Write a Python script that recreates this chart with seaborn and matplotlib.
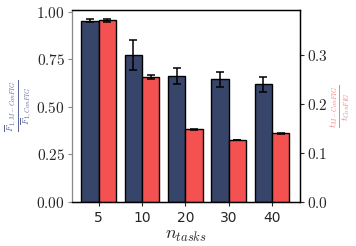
import numpy as np
import pandas as pd
import matplotlib
matplotlib.use("Agg")
import matplotlib.pyplot as plt
import seaborn as sns
from matplotlib.ticker import FuncFormatter

## Data
n_tasks = ["5", "10", "20", "30", "40"]
f1_ratio = [0.955, 0.775, 0.665, 0.645, 0.620]
f1_err = [0.007, 0.080, 0.042, 0.040, 0.040]
time_ratio = [0.371, 0.255, 0.149, 0.127, 0.140]
time_err = [0.003, 0.004, 0.001, 0.0005, 0.0005]

blue = "#38456a"
red = "#f45151"

sns.set_style("white")
plt.rcParams["mathtext.fontset"] = "cm"
plt.rcParams["font.family"] = ["DejaVu Sans"]

df = pd.DataFrame({
    "n": n_tasks * 2,
    "metric": ["f1"] * 5 + ["time"] * 5,
    "f1": f1_ratio + [np.nan] * 5,
    "time": [np.nan] * 5 + time_ratio,
})

fig = plt.figure(figsize=(3.56, 2.46), dpi=100)
ax1 = fig.add_axes([0.202, 0.179, 0.641, 0.78])
ax2 = ax1.twinx()

for ax, col in ((ax1, "f1"), (ax2, "time")):
    sns.barplot(data=df, x="n", y=col, hue="metric", hue_order=["f1", "time"],
                palette=[blue, red], saturation=1, width=0.8, edgecolor="black",
                linewidth=1, legend=False, ax=ax)

# error bars at bar centres
def add_err(ax, vals, errs):
    bars = [p for p in ax.patches if p.get_height() > 0 and not np.isnan(p.get_height())]
    bars = sorted(bars, key=lambda p: p.get_x())
    xs = [p.get_x() + p.get_width() / 2 for p in bars]
    ax.errorbar(xs, vals, yerr=errs, fmt="none", ecolor="black", elinewidth=1.1, capsize=3, capthick=1.1)

add_err(ax1, f1_ratio, f1_err)
add_err(ax2, time_ratio, time_err)

ax1.set_xlim(-0.62, 4.65)
ax1.set_ylim(0, 1.01)
ax2.set_ylim(0, 0.392)
ax1.set_yticks([0, 0.25, 0.5, 0.75, 1.0])
ax2.set_yticks([0, 0.1, 0.2, 0.3])
ax1.yaxis.set_major_formatter(FuncFormatter(lambda v, p: f"${v:.2f}$"))
ax2.yaxis.set_major_formatter(FuncFormatter(lambda v, p: f"${v:.1f}$"))
ax1.tick_params(axis="y", labelsize=11, length=3, pad=2, left=True, color="#888888")
ax2.tick_params(axis="y", labelsize=11, length=3, pad=2, right=True)
ax1.tick_params(axis="x", labelsize=10, length=3, bottom=True)

ax1.set_xlabel("$n_{tasks}$", fontsize=13)
ax1.xaxis.set_label_coords(0.5, -0.125)
ax1.set_ylabel(r"$\frac{\overline{F}_{1,M-ConFIG}}{\overline{F}_{1,ConFIG}}$", fontsize=9.5, color="#5a6796", va="center")
ax1.yaxis.set_label_coords(-0.232, 0.5)
ax2.set_ylabel(r"$\frac{t_{M-ConFIG}}{t_{ConFIG}}$", fontsize=9.5, color="#f77b7b", va="center")
ax2.yaxis.set_label_coords(1.175, 0.5)

for ax in (ax1, ax2):
    for s in ax.spines.values():
        s.set_color("black")
        s.set_linewidth(0.9)
ax2.spines["left"].set_visible(False)
ax1.spines["left"].set_color("#888888")

fig.savefig("out.png", dpi=100)
